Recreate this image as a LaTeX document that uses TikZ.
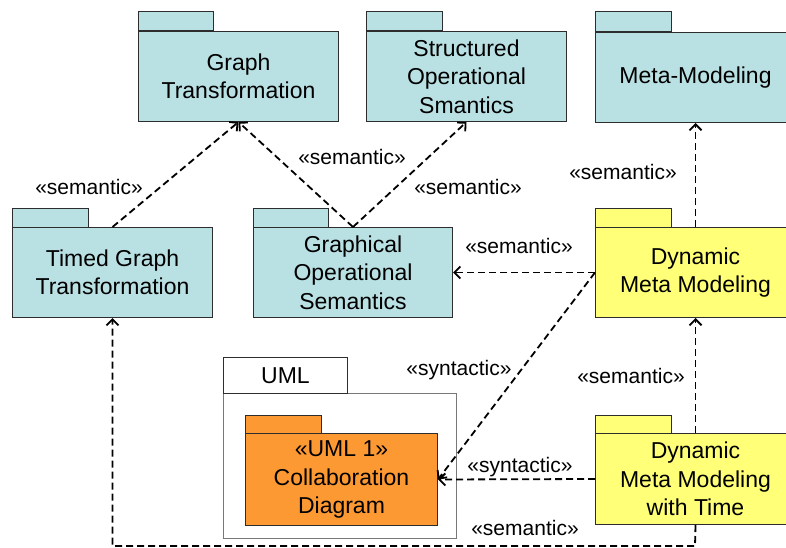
\documentclass[tikz,border=0pt]{standalone}
\usepackage{fontspec}
\setmainfont{Liberation Sans}
\usetikzlibrary{arrows.meta}
\definecolor{pkgteal}{RGB}{185,224,227}
\definecolor{pkgyellow}{RGB}{255,255,120}
\definecolor{pkgorange}{RGB}{253,153,51}
\definecolor{pkgline}{RGB}{45,45,45}
\definecolor{umlgrey}{RGB}{120,120,120}
\tikzset{
  pkgbody/.style={draw=pkgline, line width=1pt, anchor=north west, inner sep=0pt,
    align=center, font=\fontsize{23}{28.5}\selectfont},
  pkgtab/.style={draw=pkgline, line width=1pt},
  dep/.style={line width=1.8pt, dash pattern=on 7pt off 4pt,
    -{Straight Barb[length=6pt,width=12pt]}},
  stereo/.style={font=\fontsize{21}{25}\selectfont, inner sep=0pt},
}
\begin{document}
\begin{tikzpicture}[x=1pt,y=-1pt]
\useasboundingbox[fill=white] (0,0) rectangle (786,548);

% package tabs
\draw[pkgtab, fill=pkgteal] (138,12) rectangle (213,31);
\draw[pkgtab, fill=pkgteal] (366,12) rectangle (442,31);
\draw[pkgtab, fill=pkgteal] (595,12) rectangle (671,32);
\draw[pkgtab, fill=pkgteal] (12,208) rectangle (88,227);
\draw[pkgtab, fill=pkgteal] (253,208) rectangle (328,227);
\draw[pkgtab, fill=pkgyellow] (595,208) rectangle (671,227);
\draw[pkgtab, fill=pkgyellow] (595,415) rectangle (671,433);

% package bodies
\node[pkgbody, fill=pkgteal, minimum width=200pt, minimum height=90pt] (gt) at (138,31)
  {Graph\\Transformation};
\node[pkgbody, fill=pkgteal, minimum width=200pt, minimum height=90pt] (sos) at (366,31)
  {Structured\\Operational\\Smantics};
\node[pkgbody, fill=pkgteal, minimum width=200pt, minimum height=90pt] (mm) at (595,32)
  {Meta-Modeling};
\node[pkgbody, fill=pkgteal, minimum width=200pt, minimum height=90pt] (tgt) at (12,227)
  {Timed Graph\\Transformation};
\node[pkgbody, fill=pkgteal, minimum width=199pt, minimum height=90pt] (gos) at (253,227)
  {Graphical\\Operational\\Semantics};
\node[pkgbody, fill=pkgyellow, minimum width=200pt, minimum height=90pt] (dmm) at (595,227)
  {Dynamic\\Meta Modeling};
\node[pkgbody, fill=pkgyellow, minimum width=200pt, minimum height=91pt] (dmmt) at (595,433)
  {Dynamic\\Meta Modeling\\with Time};

% UML package with nested collaboration diagram package
\node[pkgbody, draw=umlgrey, fill=white, minimum width=233pt, minimum height=145pt] (uml) at (223,393) {};
\node[pkgbody, fill=white, minimum width=124pt, minimum height=36pt] (umltab) at (223,357) {UML};
\draw[pkgtab, fill=pkgorange] (245,415) rectangle (321,433);
\node[pkgbody, fill=pkgorange, minimum width=192pt, minimum height=92pt] (cd) at (245,433)
  {«UML 1»\\Collaboration\\Diagram};

% dependencies
\draw[dep] (tgt.north) -- (gt.south);
\draw[dep] (gos.north) -- (gt.south);
\draw[dep] (gos.north) -- (sos.south);
\draw[dep] (dmm.north) -- (mm.south);
\draw[dep] (dmm.west) -- (gos.east);
\draw[dep] (dmm.west) -- (cd.east);
\draw[dep] (dmmt.west) -- (cd.east);
\draw[dep] (dmmt.north) -- (dmm.south);
\coordinate (loop) at (695,546);
\draw[dep] (dmmt.south) -- (loop) -| (tgt.south);

% stereotypes
\node[stereo] (s1) at (89,187) {«semantic»};
\node[stereo] (s2) at (352,157) {«semantic»};
\node[stereo] (s3) at (468,187) {«semantic»};
\node[stereo] (s4) at (623,172) {«semantic»};
\node[stereo] (s5) at (519,246) {«semantic»};
\node[stereo] (s6) at (459,370) {«syntactic»};
\node[stereo] (s7) at (520,467) {«syntactic»};
\node[stereo] (s8) at (631,376) {«semantic»};
\node[stereo] (s9) at (525,528) {«semantic»};
\end{tikzpicture}
\end{document}
